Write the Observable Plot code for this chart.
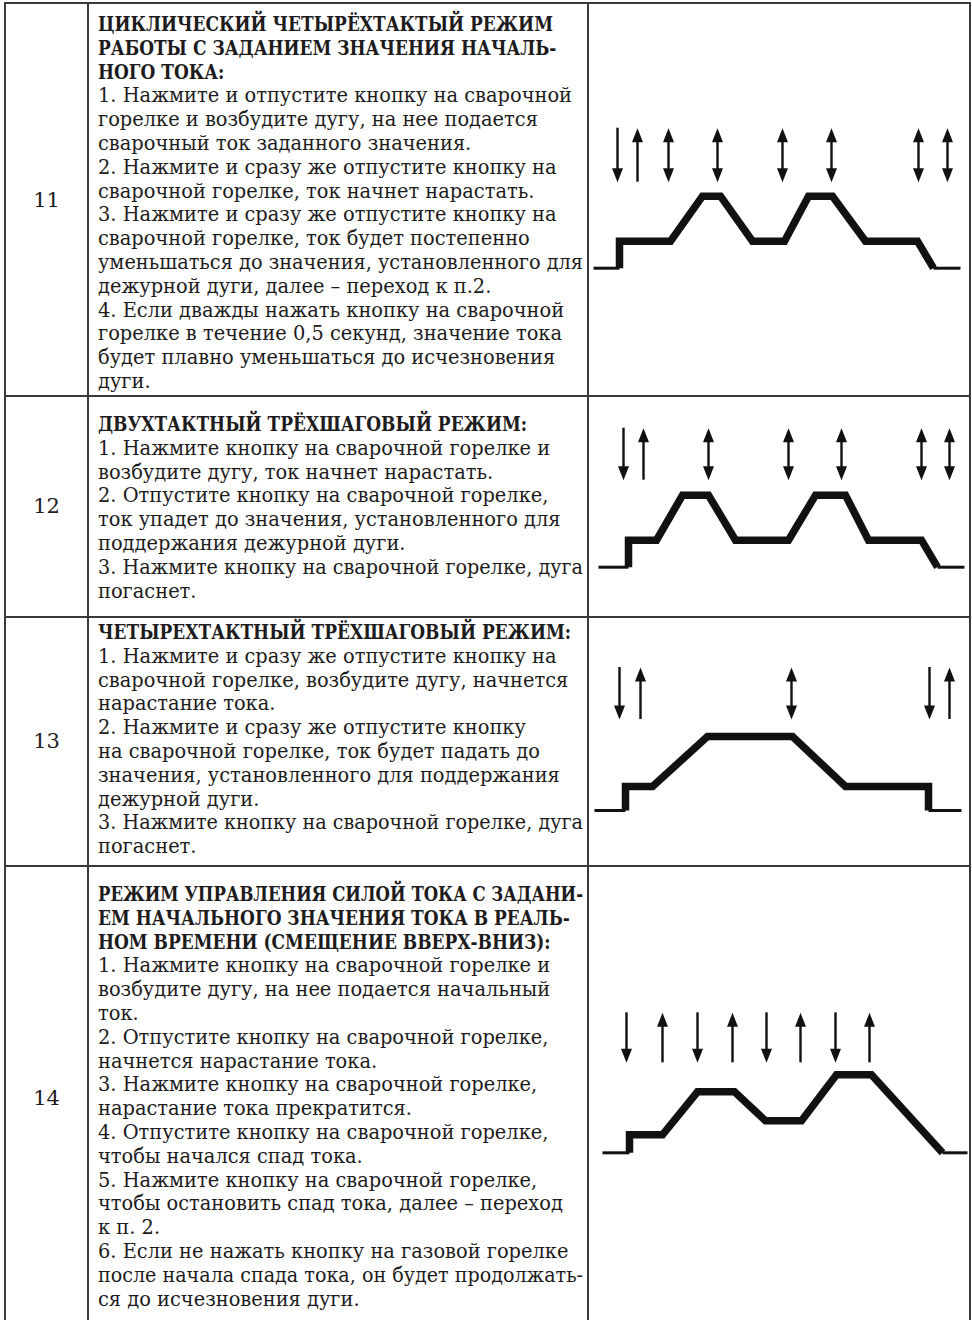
<!DOCTYPE html>
<html>
<head>
<meta charset="utf-8">
<script src="https://cdn.jsdelivr.net/npm/d3@7"></script>
<script src="https://cdn.jsdelivr.net/npm/@observablehq/plot@0.6"></script>
<style>
  html, body { margin: 0; padding: 0; background: #fff; }
  #page { position: relative; width: 972px; height: 1320px; overflow: hidden;
          font-family: "DejaVu Serif", serif; color: #1d1b1c; background: #fff; }
  .hl, .vl { position: absolute; background: #3a3a3a; }
  .ln { position: absolute; white-space: pre; transform-origin: 0 0;
        font-size: 21px; line-height: 24px; height: 24px; }
  .num { position: absolute; width: 83px; text-align: center; font-size: 21px;
         line-height: 24px; height: 24px; }
  .dg { position: absolute; }
</style>
</head>
<body>
<div id="page"></div>
<script>
// ---------------- DATA ----------------
const modeNumbers = ["11", "12", "13", "14"];

const titles11 = ["ЦИКЛИЧЕСКИЙ ЧЕТЫРЁХТАКТЫЙ РЕЖИМ", "РАБОТЫ С ЗАДАНИЕМ ЗНАЧЕНИЯ НАЧАЛЬ-", "НОГО ТОКА:"];
const steps11 = [
  "1. Нажмите и отпустите кнопку на сварочной",
  "горелке и возбудите дугу, на нее подается",
  "сварочный ток заданного значения.",
  "2. Нажмите и сразу же отпустите кнопку на",
  "сварочной горелке, ток начнет нарастать.",
  "3. Нажмите и сразу же отпустите кнопку на",
  "сварочной горелке, ток будет постепенно",
  "уменьшаться до значения, установленного для",
  "дежурной дуги, далее – переход к п.2.",
  "4. Если дважды нажать кнопку на сварочной",
  "горелке в течение 0,5 секунд, значение тока",
  "будет плавно уменьшаться до исчезновения",
  "дуги."
];
const titles12 = ["ДВУХТАКТНЫЙ ТРЁХШАГОВЫЙ РЕЖИМ:"];
const steps12 = [
  "1. Нажмите кнопку на сварочной горелке и",
  "возбудите дугу, ток начнет нарастать.",
  "2. Отпустите кнопку на сварочной горелке,",
  "ток упадет до значения, установленного для",
  "поддержания дежурной дуги.",
  "3. Нажмите кнопку на сварочной горелке, дуга",
  "погаснет."
];
const titles13 = ["ЧЕТЫРЕХТАКТНЫЙ ТРЁХШАГОВЫЙ РЕЖИМ:"];
const steps13 = [
  "1. Нажмите и сразу же отпустите кнопку на",
  "сварочной горелке, возбудите дугу, начнется",
  "нарастание тока.",
  "2. Нажмите и сразу же отпустите кнопку",
  "на сварочной горелке, ток будет падать до",
  "значения, установленного для поддержания",
  "дежурной дуги.",
  "3. Нажмите кнопку на сварочной горелке, дуга",
  "погаснет."
];
const titles14 = ["РЕЖИМ УПРАВЛЕНИЯ СИЛОЙ ТОКА С ЗАДАНИ-", "ЕМ НАЧАЛЬНОГО ЗНАЧЕНИЯ ТОКА В РЕАЛЬ-", "НОМ ВРЕМЕНИ (СМЕЩЕНИЕ ВВЕРХ-ВНИЗ):"];
const steps14 = [
  "1. Нажмите кнопку на сварочной горелке и",
  "возбудите дугу, на нее подается начальный",
  "ток.",
  "2. Отпустите кнопку на сварочной горелке,",
  "начнется нарастание тока.",
  "3. Нажмите кнопку на сварочной горелке,",
  "нарастание тока прекратится.",
  "4. Отпустите кнопку на сварочной горелке,",
  "чтобы начался спад тока.",
  "5. Нажмите кнопку на сварочной горелке,",
  "чтобы остановить спад тока, далее – переход",
  "к п. 2.",
  "6. Если не нажать кнопку на газовой горелке",
  "после начала спада тока, он будет продолжать-",
  "ся до исчезновения дуги."
];

// waveforms: [time, current level]
const lead11 = [[5, 0], [31, 0]];
const wave11 = [[31, 0], [31, 27], [82, 27], [114, 72], [132, 72], [164, 27], [196, 27], [220, 72], [244, 72], [277, 27], [329, 27], [345, 0]];
const tail11 = [[345, 0], [372, 0]];
const arrows11 = [[29, "down"], [49, "up"], [80, "both"], [129, "both"], [194, "both"], [243, "both"], [330, "both"], [359, "both"]];
const arrowSpan11 = [86, 140];

const lead12 = [[10, 0], [40, 0]];
const wave12 = [[40, 0], [40, 27], [68, 27], [94, 72], [120, 72], [147, 27], [200, 27], [227, 72], [257, 72], [280, 27], [333, 27], [349, 0]];
const tail12 = [[349, 0], [376, 0]];
const arrows12 = [[35, "down"], [55, "up"], [120, "both"], [200, "both"], [253, "both"], [333, "both"], [361, "both"]];
const arrowSpan12 = [87, 139];

const lead13 = [[6, 0], [37, 0]];
const wave13 = [[37, 0], [37, 24], [64, 24], [119, 74], [204, 74], [257, 24], [340, 24], [340, 0]];
const tail13 = [[340, 0], [373, 0]];
const arrows13 = [[31, "down"], [52, "up"], [203, "both"], [341, "down"], [361, "up"]];
const arrowSpan13 = [91, 143];

const lead14 = [[14, 0], [41, 0]];
const wave14 = [[41, 0], [41, 18], [74, 18], [109, 61], [146, 61], [177, 32], [213, 32], [248, 78], [283, 78], [354, 0]];
const tail14 = [[354, 0], [379, 0]];
const arrows14 = [[38, "down"], [74, "up"], [109, "down"], [144, "up"], [178, "down"], [212, "up"], [247, "down"], [281, "up"]];
const arrowSpan14 = [90, 140];

// ---------------- LAYOUT ----------------
const colEdges = [5, 88, 588, 970];
const rowEdges = [3, 396, 617, 866];
const rowBottoms = [396, 617, 866, 1330];
const firstLineCenter = [24, 424, 632, 894];
const numberCenter = [200, 506, 741, 1098];
const baselineFromTop = [264.7, 170.7, 193, 286.3];
const lineStep = 23.8;
const textLeft = 98;
const maxTextWidth = 485;
const refRegWidth = 474, refBoldWidth = 455;

const modes = [
  {titles: titles11, steps: steps11, lead: lead11, wave: wave11, tail: tail11, arrows: arrows11, span: arrowSpan11},
  {titles: titles12, steps: steps12, lead: lead12, wave: wave12, tail: tail12, arrows: arrows12, span: arrowSpan12},
  {titles: titles13, steps: steps13, lead: lead13, wave: wave13, tail: tail13, arrows: arrows13, span: arrowSpan13},
  {titles: titles14, steps: steps14, lead: lead14, wave: wave14, tail: tail14, arrows: arrows14, span: arrowSpan14}
];

const page = document.getElementById("page");
const ink = "#111";

// measure fonts so line widths match the reference
const ctx = document.createElement("canvas").getContext("2d");
const fontReg = '21px "DejaVu Serif"', fontBold = 'bold 21px "DejaVu Serif"';
ctx.font = fontReg;
const kReg = refRegWidth / ctx.measureText(steps11[0]).width;
ctx.font = fontBold;
const kBold = refBoldWidth / ctx.measureText(titles11[0]).width;
function lineScale(text, bold) {
  ctx.font = bold ? fontBold : fontReg;
  const w = ctx.measureText(text).width;
  const k = bold ? kBold : kReg;
  return Math.min(k, maxTextWidth / w);
}

function el(cls, style, text) {
  const d = document.createElement("div");
  d.className = cls;
  Object.assign(d.style, style);
  if (text != null) d.textContent = text;
  page.appendChild(d);
  return d;
}

// table frame
colEdges.forEach(x => el("vl", {left: (x - 1) + "px", top: rowEdges[0] - 1 + "px", width: "2px", height: "1330px"}));
rowEdges.forEach(y => el("hl", {left: colEdges[0] - 1 + "px", top: (y - 1) + "px", width: (colEdges[3] - colEdges[0] + 2) + "px", height: "2px"}));

// arrow heads
const headUp = {draw(c) { c.moveTo(0, 0); c.lineTo(-5.5, 14); c.lineTo(5.5, 14); c.closePath(); }};
const headDown = {draw(c) { c.moveTo(0, 0); c.lineTo(-5.5, -14); c.lineTo(5.5, -14); c.closePath(); }};

modes.forEach((m, i) => {
  // number
  el("num", {left: colEdges[0] + "px", top: (numberCenter[i] - 12) + "px"}, modeNumbers[i]);
  // text
  const lines = [...m.titles.map(t => ({t, b: true})), ...m.steps.map(t => ({t, b: false}))];
  lines.forEach((L, j) => {
    el("ln", {
      left: textLeft + "px",
      top: (firstLineCenter[i] - 12 + j * lineStep) + "px",
      fontWeight: L.b ? "bold" : "normal",
      transform: `scaleX(${lineScale(L.t, L.b)})`
    }, L.t);
  });

  // diagram
  const top = rowEdges[i];
  const H = rowBottoms[i] - top;
  const base = baselineFromTop[i];
  const W = colEdges[3] - colEdges[2];
  const [lo, hi] = m.span;
  const arr = m.arrows.map(([t, dir]) => ({t, dir}));
  const downHead = d => d.dir === "down" || d.dir === "both";
  const upHead = d => d.dir === "up" || d.dir === "both";
  const chart = Plot.plot({
    width: W, height: H, margin: 0,
    style: "background: transparent; overflow: visible;",
    x: {domain: [0, W], axis: null},
    y: {domain: [-(H - base), base], axis: null},
    marks: [
      Plot.line(m.lead, {x: d => d[0], y: d => d[1], stroke: ink, strokeWidth: 3, strokeLinecap: "butt"}),
      Plot.line(m.tail, {x: d => d[0], y: d => d[1], stroke: ink, strokeWidth: 3, strokeLinecap: "butt"}),
      Plot.line(m.wave, {x: d => d[0], y: d => d[1], stroke: ink, strokeWidth: 7.5, strokeLinecap: "butt", strokeLinejoin: "miter", strokeMiterlimit: 10}),
      Plot.ruleX(arr, {x: "t", y1: d => downHead(d) ? lo + 6 : lo, y2: d => upHead(d) ? hi - 6 : hi, stroke: ink, strokeWidth: 2.4}),
      Plot.dot(arr.filter(upHead), {x: "t", y: () => hi, symbol: headUp, fill: ink, stroke: "none"}),
      Plot.dot(arr.filter(downHead), {x: "t", y: () => lo, symbol: headDown, fill: ink, stroke: "none"})
    ]
  });
  const holder = el("dg", {left: colEdges[2] + "px", top: top + "px", width: W + "px", height: H + "px"});
  holder.appendChild(chart);
});
</script>
</body>
</html>
